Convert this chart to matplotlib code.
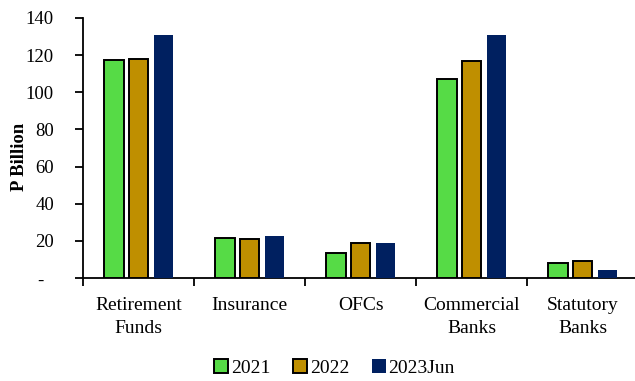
import matplotlib
matplotlib.use("Agg")
import matplotlib.pyplot as plt
import numpy as np
from matplotlib.patches import Patch

plt.rcParams['font.family'] = ['Liberation Serif', 'DejaVu Serif']

categories = ["Retirement\nFunds", "Insurance", "OFCs", "Commercial\nBanks", "Statutory\nBanks"]
series_names = ["2021", "2022", "2023Jun"]
v2021 = [117.4, 21.4, 13.6, 107.4, 8.1]
v2022 = [117.9, 20.8, 19.0, 117.0, 9.2]
v2023 = [130.9, 22.6, 18.7, 130.9, 4.1]
yticks = [0, 20, 40, 60, 80, 100, 120, 140]
ytick_labels = ["-  ", "20", "40", "60", "80", "100", "120", "140"]

colors = ["#56DB46", "#BF8F00", "#002060"]
edges = ["black", "black", "none"]

fig = plt.figure(figsize=(6.35, 3.81), dpi=100)
ax = fig.add_axes([0.131, 0.2703, 0.874, 0.6825])

x = np.arange(len(categories))
width = 0.175
step = 0.222
for i, (vals, c, e) in enumerate(zip([v2021, v2022, v2023], colors, edges)):
    ax.bar(x + (i - 1) * step, vals, width, color=c, edgecolor=e,
           linewidth=1.4 if e != "none" else 0, zorder=3)

ax.set_xlim(-0.5, len(categories) - 0.5)
ax.set_ylim(0, 140)
ax.set_yticks(yticks)
ax.set_yticklabels(ytick_labels, fontsize=13.5)
ax.set_xticks(np.arange(len(categories) + 1) - 0.5)
ax.set_xticklabels([])
ax.set_xticks(x, minor=True)
ax.set_xticklabels(categories, minor=True, fontsize=14, linespacing=1.45)
ax.tick_params(axis='x', which='minor', length=0, pad=14)
ax.tick_params(axis='x', which='major', length=6, width=1.3, direction='out')
ax.tick_params(axis='y', length=6, width=1.3, direction='out', pad=15)

for s in ["top", "right"]:
    ax.spines[s].set_visible(False)
for s in ["left", "bottom"]:
    ax.spines[s].set_linewidth(1.3)

ax.set_ylabel("P Billion", fontsize=13.5, fontweight='bold')
ax.yaxis.set_label_coords(-0.1, 0.465)

handles = [Patch(facecolor=c, edgecolor=e, linewidth=1.4 if e != "none" else 0)
           for c, e in zip(colors, edges)]
fig.legend(handles, series_names, loc='lower center', bbox_to_anchor=(0.527, -0.035),
           ncol=3, frameon=False, fontsize=14, handlelength=0.72, handleheight=0.72,
           handletextpad=0.15, columnspacing=1.15)

fig.savefig("out.png", dpi=100)
